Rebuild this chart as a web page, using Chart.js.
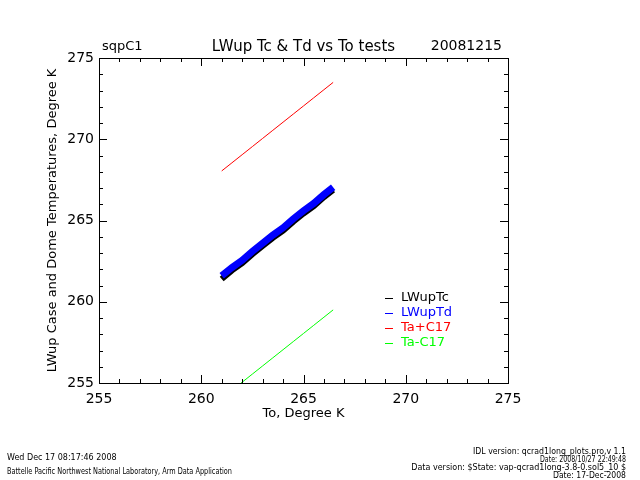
<!DOCTYPE html>
<html lang="en">
<head>
  <meta charset="UTF-8">
  <title>LWup Tc & Td vs To tests</title>
  <script src="https://cdn.jsdelivr.net/npm/chart.js"></script>
  <style>
    body {
      margin: 0;
      background: #ffffff;
    }
    canvas {
      display: block;
      background: #ffffff;
    }
  </style>
</head>
<body>

<canvas id="lwupChart" width="640" height="480"></canvas>

<script>
  // values
  const toValues   = [261.0, 261.5, 262.0, 262.5, 263.0, 263.5, 264.0, 264.5, 265.0, 265.5, 266.0, 266.45];
  const tcValues   = [261.4, 261.93, 262.38, 262.93, 263.43, 263.93, 264.38, 264.93, 265.43, 265.88, 266.44, 266.89];
  const tdValues   = [261.6, 262.1, 262.55, 263.1, 263.6, 264.1, 264.55, 265.1, 265.6, 266.05, 266.6, 267.05];
  const taPlusC17  = [268.05, 268.55, 269.05, 269.55, 270.05, 270.55, 271.05, 271.55, 272.05, 272.55, 273.05, 273.5];
  const taMinusC17 = [254.05, 254.55, 255.05, 255.55, 256.05, 256.55, 257.05, 257.55, 258.05, 258.55, 259.05, 259.5];

  const seriesLabels = ['LWupTc', 'LWupTd', 'Ta+C17', 'Ta-C17'];
  const seriesColors = ['#000000', '#0000ff', '#ff0000', '#00ff00'];

  const xRange = [255, 275];
  const yRange = [255, 275];

  const headerLeft = 'sqpC1';
  const headerTitle = 'LWup Tc & Td vs To tests';
  const headerDate = '20081215';

  const footerLeft = [
    'Wed Dec 17 08:17:46 2008',
    'Battelle Pacific Northwest National Laboratory, Arm Data Application'
  ];
  const footerRight = [
    'IDL version: qcrad1long_plots.pro,v 1.1',
    'Date: 2008/10/27 22:49:48',
    'Data version: $State: vap-qcrad1long-3.8-0.sol5_10 $',
    'Date: 17-Dec-2008'
  ];

  function pairs(ys) {
    return toValues.map((x, i) => ({ x: x, y: ys[i] }));
  }

  const allSeries = [tcValues, tdValues, taPlusC17, taMinusC17];
  const widths = [6, 7, 1, 1];
  const orders = [2, 1, 0, 0];

  const datasets = allSeries.map((ys, i) => ({
    label: seriesLabels[i],
    data: pairs(ys),
    borderColor: seriesColors[i],
    backgroundColor: seriesColors[i],
    borderWidth: widths[i],
    pointRadius: 0,
    showLine: true,
    order: orders[i],
    borderCapStyle: 'butt'
  }));

  const FONT = "'DejaVu Sans', sans-serif";

  // IDL style box: frame, inward ticks, headers, legend, footer
  const idlDecor = {
    id: 'idlDecor',
    afterDraw(chart) {
      const ctx = chart.ctx;
      const a = chart.chartArea;
      const xs = chart.scales.x;
      const ys = chart.scales.y;
      ctx.save();
      ctx.strokeStyle = '#000';
      ctx.lineWidth = 1;
      ctx.strokeRect(Math.round(a.left) + 0.5, Math.round(a.top) + 0.5,
                     Math.round(a.right - a.left), Math.round(a.bottom - a.top));

      ctx.beginPath();
      for (let v = xRange[0]; v <= xRange[1]; v++) {
        const len = v % 5 === 0 ? 8 : 4;
        const px = Math.round(xs.getPixelForValue(v)) + 0.5;
        ctx.moveTo(px, a.bottom); ctx.lineTo(px, a.bottom - len);
        ctx.moveTo(px, a.top); ctx.lineTo(px, a.top + len);
      }
      for (let v = yRange[0]; v <= yRange[1]; v++) {
        const len = v % 5 === 0 ? 8 : 4;
        const py = Math.round(ys.getPixelForValue(v)) + 0.5;
        ctx.moveTo(a.left, py); ctx.lineTo(a.left + len, py);
        ctx.moveTo(a.right, py); ctx.lineTo(a.right - len, py);
      }
      ctx.stroke();

      // headers
      ctx.fillStyle = '#000';
      ctx.textBaseline = 'alphabetic';
      ctx.font = '13px ' + FONT;
      ctx.textAlign = 'left';
      ctx.fillText(headerLeft, 102, 50);
      ctx.font = '15px ' + FONT;
      ctx.textAlign = 'center';
      ctx.fillText(headerTitle, (a.left + a.right) / 2, 51, 218);
      ctx.font = '14px ' + FONT;
      ctx.textAlign = 'right';
      ctx.fillText(headerDate, 502, 50);

      // legend
      ctx.font = '13px ' + FONT;
      ctx.textAlign = 'left';
      ctx.textBaseline = 'middle';
      chart.data.datasets.forEach((ds, i) => {
        const y = 298 + i * 15;
        ctx.strokeStyle = ds.borderColor;
        ctx.beginPath();
        ctx.moveTo(385, y + 0.5);
        ctx.lineTo(393, y + 0.5);
        ctx.stroke();
        ctx.fillStyle = ds.borderColor;
        ctx.fillText(ds.label, 401, y);
      });

      // footer
      ctx.fillStyle = '#000';
      ctx.textBaseline = 'alphabetic';
      ctx.font = '8px ' + FONT;
      ctx.textAlign = 'left';
      ctx.fillText(footerLeft[0], 7, 460, 112);
      ctx.fillText(footerLeft[1], 7, 474, 225);
      ctx.textAlign = 'right';
      const rw = [153, 86, 222, 73];
      footerRight.forEach((t, i) => {
        ctx.fillText(t, 626, 454 + i * 8, rw[i]);
      });
      ctx.restore();
    }
  };

  const ctx = document.getElementById('lwupChart').getContext('2d');
  const chart = new Chart(ctx, {
    type: 'scatter',
    data: { datasets: datasets },
    plugins: [idlDecor],
    options: {
      responsive: false,
      animation: false,
      devicePixelRatio: 1,
      layout: { padding: { top: 58, right: 132, left: 0, bottom: 0 } },
      plugins: {
        legend: { display: false },
        tooltip: { enabled: false }
      },
      scales: {
        x: {
          type: 'linear',
          min: xRange[0],
          max: xRange[1],
          afterFit: s => { s.height = 97; },
          grid: { display: false, drawTicks: false },
          border: { display: false },
          ticks: { stepSize: 5, color: '#000', padding: 8, maxRotation: 0, font: { family: FONT, size: 14 } },
          title: { display: true, text: 'To, Degree K', color: '#000', font: { family: FONT, size: 13 }, padding: { top: 0, bottom: 59 } }
        },
        y: {
          type: 'linear',
          min: yRange[0],
          max: yRange[1],
          afterFit: s => { s.width = 99; },
          grid: { display: false, drawTicks: false },
          border: { display: false },
          ticks: { stepSize: 5, color: '#000', padding: 5, font: { family: FONT, size: 14 } },
          title: { display: true, text: 'LWup Case and Dome Temperatures, Degree K', color: '#000', font: { family: FONT, size: 13 }, padding: { top: 45, bottom: 0 } }
        }
      }
    }
  });
</script>

</body>
</html>
